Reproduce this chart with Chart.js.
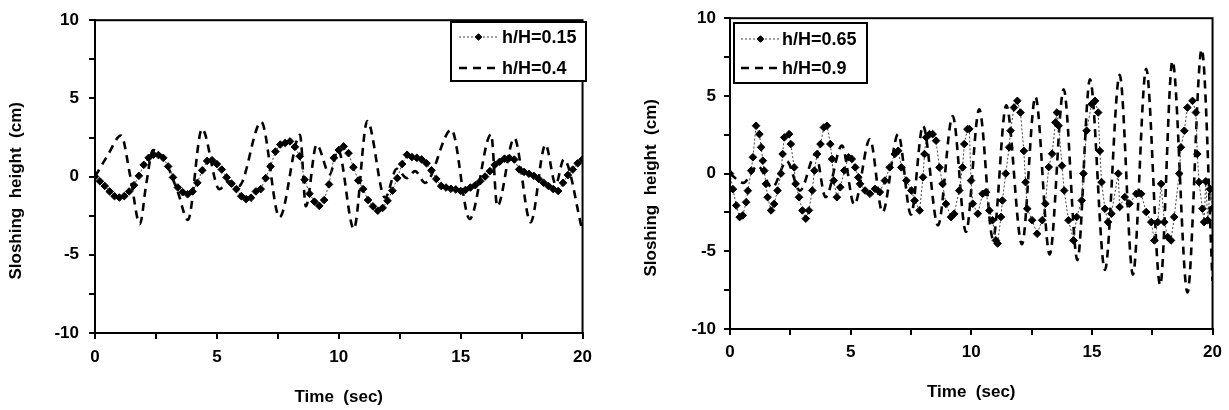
<!DOCTYPE html>
<html><head><meta charset="utf-8">
<script src="https://cdn.jsdelivr.net/npm/chart.js@4.4.0/dist/chart.umd.min.js"></script>
<style>
html,body{margin:0;padding:0;background:#fff;width:1229px;height:410px;overflow:hidden}
canvas{position:absolute;top:0}
#c1{left:0}
#c2{left:610px}
</style></head><body>
<canvas id="c1" width="600" height="410"></canvas>
<canvas id="c2" width="619" height="410"></canvas>
<script>
// ---------- tick labels ----------
const xTickLabels = [0, 5, 10, 15, 20];
const yTickLabels = [-10, -5, 0, 5, 10];

// ---------- left panel : h/H = 0.15 (marked dotted line) ----------
const leftTime015 = [0,0.2,0.4,0.6,0.8,1,1.2,1.4,1.6,1.8,2,2.2,2.4,2.6,2.8,3,3.2,3.4,3.6,3.8,4,4.2,4.4,4.6,4.8,5,5.2,5.4,5.6,5.8,6,6.2,6.4,6.6,6.8,7,7.2,7.4,7.6,7.8,8,8.2,8.4,8.6,8.8,9,9.2,9.4,9.6,9.8,10,10.2,10.4,10.6,10.8,11,11.2,11.4,11.6,11.8,12,12.2,12.4,12.6,12.8,13,13.2,13.4,13.6,13.8,14,14.2,14.4,14.6,14.8,15,15.2,15.4,15.6,15.8,16,16.2,16.4,16.6,16.8,17,17.2,17.4,17.6,17.8,18,18.2,18.4,18.6,18.8,19,19.2,19.4,19.6,19.8,20];
const leftH015 = [0,-0.3,-0.6,-0.95,-1.25,-1.34,-1.25,-0.95,-0.55,0.05,
  0.75,1.2,1.4,1.38,1.2,0.65,-0.05,-0.7,-1.0,-1.13,
  -0.95,-0.4,0.4,1.0,1.05,0.8,0.45,-0.05,-0.45,-0.8,
  -1.25,-1.44,-1.35,-0.95,-0.8,-0.1,0.65,1.6,2.05,2.15,
  2.25,1.9,1.3,-0.2,-1.1,-1.6,-1.87,-1.5,-0.5,1.2,
  1.7,1.93,1.5,0.6,-0.25,-0.8,-1.5,-1.9,-2.18,-2.0,
  -1.55,-0.9,-0.1,0.8,1.4,1.25,1.2,1.1,0.85,0.4,
  -0.15,-0.6,-0.7,-0.78,-0.82,-0.92,-0.85,-0.7,-0.55,-0.3,
  0.0,0.35,0.75,0.95,1.15,1.19,1.09,0.46,0.3,0.18,
  0.05,-0.15,-0.39,-0.6,-0.8,-0.92,-0.4,0.1,0.45,0.85,
  1.1];

// ---------- left panel : h/H = 0.4 (dashed line) ----------
const leftTime04 = [0,0.5,1.07,1.45,1.84,2.1,2.38,2.9,3.4,3.81,4.39,5.1,5.5,5.9,6.82,7.57,8.41,8.65,9.09,9.63,9.97,10.62,11.17,11.9,12.38,12.79,13.13,13.54,14.62,15.37,16.25,16.5,17.2,17.87,18.48,18.9,19.23,20];
const leftH04 = [0,1.3,2.63,0,-3.03,-0.5,1.7,0.9,-1.0,-2.77,3.05,-0.8,-0.3,-0.6,3.5,-2.6,2.67,-1.9,2.04,0.16,1.72,-3.34,3.55,-1.35,0.5,-0.1,0.35,-0.4,3.0,-2.71,2.71,-1.9,2.46,-2.92,2.04,-0.5,1.1,-3.5];

// ---------- right panel : h/H = 0.65 (marked dotted line) ----------
const rightTime065 = [0,0.12,0.26,0.4,0.53,0.67,0.74,0.88,0.95,1.08,1.22,1.29,1.36,1.42,1.49,1.56,1.7,1.83,1.97,2.11,2.18,2.25,2.45,2.52,2.66,2.72,2.86,3.0,3.14,3.27,3.41,3.5,3.61,3.75,3.89,4.02,4.16,4.23,4.3,4.43,4.57,4.74,4.91,5.05,5.19,5.32,5.39,5.6,5.8,6.01,6.21,6.42,6.62,6.83,6.97,7.1,7.31,7.52,7.65,7.86,8.0,8.06,8.13,8.27,8.4,8.54,8.68,8.81,8.95,9.16,9.29,9.5,9.64,9.71,9.84,9.92,9.99,10.06,10.27,10.47,10.61,10.75,10.88,11.02,11.09,11.23,11.29,11.43,11.57,11.63,11.77,11.91,12.04,12.18,12.25,12.32,12.52,12.73,12.94,13.07,13.21,13.35,13.49,13.55,13.62,13.76,13.85,14.03,14.24,14.37,14.58,14.65,14.78,14.99,15.13,15.26,15.33,15.4,15.54,15.67,15.81,16.09,16.15,16.36,16.56,16.84,17.04,17.25,17.46,17.59,17.73,17.87,18.0,18.14,18.28,18.41,18.62,18.69,18.83,18.96,19.17,19.31,19.37,19.44,19.58,19.65,19.72,19.8,19.9,20];
const rightH065 = [0,-1.0,-2.05,-2.8,-2.69,-1.84,-1.1,0.19,1.05,3.08,2.54,1.69,0.83,0.19,-0.66,-1.52,-2.37,-1.95,-1.09,0,1.26,2.33,2.54,1.9,0.4,-0.66,-1.52,-2.37,-2.9,-2.37,-1.09,0.19,1.26,1.9,2.97,3.08,1.9,0.94,-0.45,-1.52,-0.88,0.2,1.05,0.94,0.4,-0.24,-0.66,-1.09,-1.3,-0.98,-1.19,-0.45,0.4,1.26,1.47,0.4,-0.45,-1.09,-1.73,-2.37,-0.24,1.26,2.33,2.54,2.54,2.12,0.4,-0.66,-1.95,-2.8,-2.59,-1.09,0.4,1.9,2.86,2.87,-0.45,-1.94,-2.58,-1.3,-1.2,-2.37,-3.0,-4.3,-4.5,-2.79,-1.73,0,1.69,2.76,4.25,4.68,3.93,1.46,-0.55,-2.26,-3.0,-3.87,-3.0,-1.94,0.42,1.28,3.29,3.93,3.08,0.51,-1.09,-3.0,-4.3,-2.79,-1.73,0,2.76,4.47,4.68,3.93,1.46,-0.55,-2.26,-3.12,-2.58,0,-2.15,-1.51,-1.94,-1.3,-1.3,-2.47,-3.12,-4.3,-3.12,-0.66,-3.12,-4.08,-4.3,-2.79,0,1.69,2.76,4.25,4.68,3.93,1.26,-0.55,-2.26,-3.12,-0.5,-3.0,-1.0,-2.24];

// ---------- right panel : h/H = 0.9 (dashed line) ----------
const rightTime09 = [0,0.55,1.15,1.75,2.35,2.9,3.55,3.96,4.64,5.15,5.8,6.32,6.97,7.5,8.0,8.62,9.23,9.78,10.33,10.9,11.45,12.1,12.66,13.25,13.83,14.4,14.92,15.54,16.15,16.7,17.25,17.83,18.34,18.96,19.55,20];
const rightH09 = [0,-0.6,0.5,-0.9,0.8,-1.1,1.26,-1.52,1.8,-2.0,2.22,-2.48,2.54,-2.65,3.08,-3.33,3.71,-3.76,4.14,-4.2,4.4,-4.55,4.95,-5.2,5.43,-5.57,6.07,-6.2,6.35,-6.5,6.75,-7.18,7.24,-7.65,8.0,-6.9];

const labels = {a: 'h/H=0.15', b: 'h/H=0.4', c: 'h/H=0.65', d: 'h/H=0.9'};

function pairs(ts, vs) { return ts.map((t, i) => ({x: t, y: vs[i]})); }

const FAMILY = '"Liberation Sans", Arial, sans-serif';
const tickFont = {family: FAMILY, size: 17, weight: 'bold'};
const titleFont = {family: FAMILY, size: 17, weight: 'bold'};

const framePlugin = {
  id: 'frameLegend',
  afterDraw(chart, args, o) {
    const {ctx, chartArea: a} = chart;
    ctx.save();
    ctx.strokeStyle = '#000';
    ctx.lineWidth = 2;
    ctx.setLineDash([]);
    ctx.strokeRect(a.left, a.top, a.right - a.left, a.bottom - a.top);
    ctx.fillStyle = '#fff';
    ctx.fillRect(o.left, o.top, o.width, o.height);
    ctx.strokeRect(o.left, o.top, o.width, o.height);
    chart.data.datasets.forEach((ds, i) => {
      const y = o.rows[i];
      ctx.save();
      ctx.strokeStyle = ds.borderColor;
      ctx.lineWidth = ds.borderWidth;
      ctx.setLineDash(ds.borderDash || []);
      ctx.beginPath();
      ctx.moveTo(o.x0, y); ctx.lineTo(o.x1, y);
      ctx.stroke();
      ctx.restore();
      if (ds.pointRadius > 0) {
        ctx.save();
        ctx.fillStyle = ds.pointBackgroundColor;
        ctx.strokeStyle = ds.pointBorderColor;
        ctx.lineWidth = ds.pointBorderWidth;
        ctx.setLineDash([]);
        Chart.helpers.drawPoint(ctx, {pointStyle: ds.pointStyle, radius: 3.3, borderWidth: ds.pointBorderWidth, rotation: 0}, (o.x0 + o.x1) / 2, y);
        ctx.restore();
      }
      ctx.fillStyle = '#000';
      ctx.font = 'bold 18px ' + FAMILY;
      ctx.textAlign = 'left';
      ctx.textBaseline = 'middle';
      ctx.fillText(ds.label, o.tx, y + 1);
    });
    ctx.restore();
  }
};

function makeChart(id, d1, d2, cfg) {
  return new Chart(document.getElementById(id), {
    type: 'line',
    data: {
      datasets: [
        {label: d1.label, data: d1.data, borderColor: '#444', borderWidth: 1, borderDash: [2, 2],
         pointStyle: 'rectRot', pointRadius: 3.8, pointBackgroundColor: '#000', pointBorderColor: '#000', pointBorderWidth: 1,
         tension: 0, fill: false},
        {label: d2.label, data: d2.data, borderColor: '#000', borderWidth: 2.6, borderDash: [8, 6],
         pointRadius: 0, cubicInterpolationMode: 'monotone', fill: false}
      ]
    },
    options: {
      responsive: false, animation: false, devicePixelRatio: 1,
      layout: {padding: {left: 0, top: 17, right: cfg.padRight, bottom: 0}},
      plugins: {legend: {display: false}, tooltip: {enabled: false}, frameLegend: cfg.legend},
      scales: {
        x: {
          type: 'linear', min: 0, max: 20, position: 'bottom',
          afterFit(s) { s.height = cfg.xH; },
          border: {display: true, color: '#000', width: 2},
          grid: {display: true, drawOnChartArea: false, drawTicks: true, tickLength: 6, color: '#000', lineWidth: 2},
          ticks: {stepSize: 2.5, autoSkip: false, maxRotation: 0, padding: cfg.xPad, color: '#000', font: tickFont,
                  callback: v => xTickLabels.includes(v) ? String(v) : ''},
          title: {display: true, text: 'Time  (sec)', color: '#000', font: titleFont, padding: {top: 0, bottom: cfg.xTitlePad}}
        },
        y: {
          type: 'linear', min: -10, max: 10, position: 'left',
          afterFit(s) { s.width = cfg.yW; },
          border: {display: true, color: '#000', width: 2},
          grid: {display: true, drawOnChartArea: false, drawTicks: true, tickLength: 6, color: '#000', lineWidth: 2},
          ticks: {stepSize: 2.5, autoSkip: false, padding: cfg.yPad, color: '#000', font: tickFont,
                  callback: v => yTickLabels.includes(v) ? String(v) : ''},
          title: {display: true, text: 'Sloshing  height  (cm)      ', color: '#000', font: titleFont, padding: {top: cfg.yTitlePad, bottom: 0}}
        }
      }
    },
    plugins: [framePlugin]
  });
}

makeChart('c1',
  {label: labels.a, data: pairs(leftTime015, leftH015)},
  {label: labels.b, data: pairs(leftTime04, leftH04)},
  {padRight: 12, xH: 77, yW: 95, xPad: 8, yPad: 10, xTitlePad: 2, yTitlePad: 6,
   legend: {left: 451, top: 22, width: 135, height: 59, rows: [37, 68], x0: 459, x1: 498, tx: 502}});

makeChart('c2',
  {label: labels.c, data: pairs(rightTime065, rightH065)},
  {label: labels.d, data: pairs(rightTime09, rightH09)},
  {padRight: 12, xH: 81, yW: 120, xPad: 7, yPad: 8, xTitlePad: 7, yTitlePad: 31,
   legend: {left: 124, top: 23, width: 133, height: 60, rows: [39, 68], x0: 131, x1: 170, tx: 172}});
</script>
</body></html>
